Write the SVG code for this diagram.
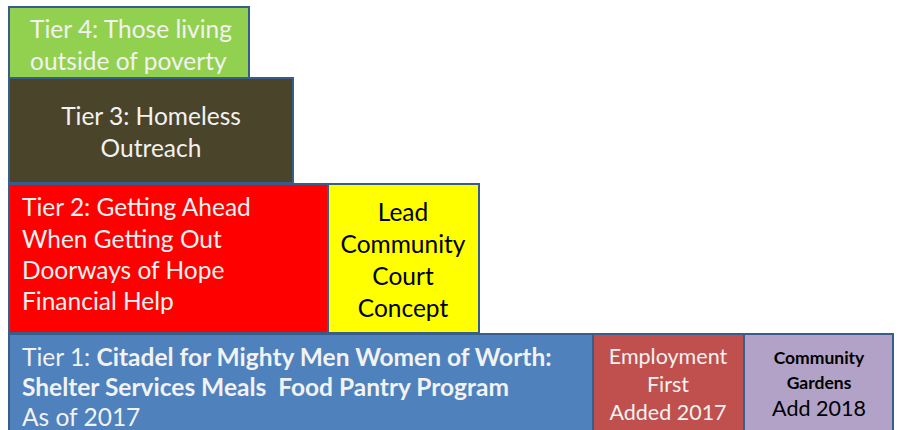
<svg xmlns="http://www.w3.org/2000/svg" width="898" height="430" viewBox="0 0 898 430">
  <style>
    .box { stroke: #385d8a; stroke-width: 2; }
    .t { font-family: Lato, "Open Sans", "Liberation Sans", sans-serif; font-size: 24.5px; }
    .light { fill: #f2f2f2; }
    .dark { fill: #000000; }
    .b { font-weight: bold; }
    .mid { text-anchor: middle; }
    .s21 { font-size: 21.5px; }
    .s17 { font-size: 17.5px; }
  </style>
  <rect width="898" height="430" fill="#ffffff"/>

  <g id="tier4">
    <rect class="box" x="9" y="7" width="240" height="71" fill="#92d050"/>
    <text class="t light" x="30" y="38">Tier 4: Those living</text>
    <text class="t light" x="30" y="70">outside of poverty</text>
  </g>

  <g id="tier3">
    <rect class="box" x="9" y="78" width="284" height="105" fill="#4a452a"/>
    <text class="t light mid" x="151" y="125">Tier 3: Homeless</text>
    <text class="t light mid" x="151" y="157">Outreach</text>
  </g>

  <g id="tier2">
    <rect class="box" x="9" y="184" width="319" height="149" fill="#ff0000"/>
    <text class="t light" x="22" y="216">Tier 2: Getting Ahead</text>
    <text class="t light" x="22" y="248">When Getting Out</text>
    <text class="t light" x="22" y="279">Doorways of Hope</text>
    <text class="t light" x="22" y="310">Financial Help</text>
  </g>

  <g id="lead-court">
    <rect class="box" x="328" y="184" width="151" height="149" fill="#ffff00"/>
    <text class="t dark mid" x="403" y="221">Lead</text>
    <text class="t dark mid" x="403" y="253">Community</text>
    <text class="t dark mid" x="403" y="285">Court</text>
    <text class="t dark mid" x="403" y="317">Concept</text>
  </g>

  <g id="tier1">
    <rect class="box" x="9" y="334" width="584" height="110" fill="#4f81bd"/>
    <text class="t light" x="22" y="366">Tier 1: <tspan class="b">Citadel for Mighty Men Women of Worth:</tspan></text>
    <text class="t light b" x="22" y="396" xml:space="preserve">Shelter Services Meals  Food Pantry Program</text>
    <text class="t light" x="22" y="426">As of 2017</text>
  </g>

  <g id="employment-first">
    <rect class="box" x="593" y="334" width="151" height="110" fill="#c0504d"/>
    <text class="t light mid s21" x="668" y="364">Employment</text>
    <text class="t light mid s21" x="668" y="392">First</text>
    <text class="t light mid s21" x="668" y="420">Added 2017</text>
  </g>

  <g id="community-gardens">
    <rect class="box" x="744" y="334" width="149" height="110" fill="#b3a2c7"/>
    <text class="t dark mid b s17" x="819" y="364">Community</text>
    <text class="t dark mid b s17" x="819" y="389">Gardens</text>
    <text class="t dark mid s21" x="819" y="416">Add 2018</text>
  </g>

  <g id="connectors"/>
</svg>
